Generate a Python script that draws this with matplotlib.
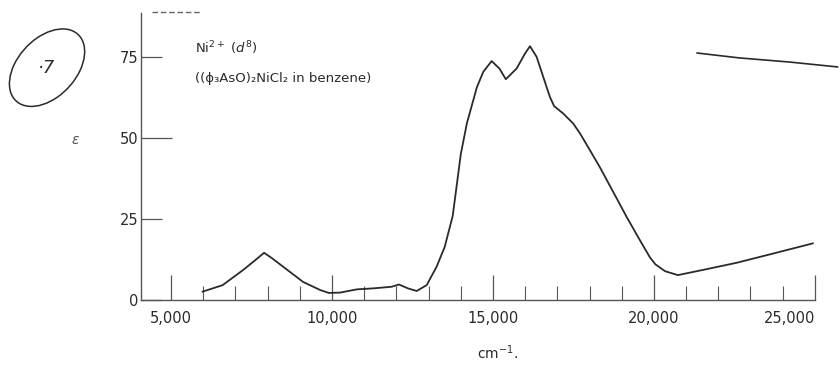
import matplotlib.pyplot as plt
from matplotlib.patches import Ellipse

# absorption spectrum of ((Ph3AsO)2NiCl2 in benzene)
wavenumber = [5980, 6600, 7240, 7600, 7890, 8150, 8480, 9100, 9630, 9900,
              10250, 10770, 11270, 11850, 12080, 12360, 12630, 12940, 13250,
              13500, 13750, 14000, 14190, 14500, 14700, 14960, 15200, 15400,
              15735, 15994, 16150, 16357, 16563, 16770, 16900, 17184, 17495,
              17702, 18012, 18323, 18736, 19152, 19565, 19876, 20050, 20350,
              20745, 21522, 22568, 23602, 24938]
epsilon = [2.6, 4.6, 9.3, 12.2, 14.6, 12.8, 10.3, 5.6, 3.1, 2.2,
           2.3, 3.3, 3.6, 4.1, 4.8, 3.6, 2.8, 4.6, 10.3,
           16.4, 26.0, 45.0, 54.6, 65.7, 70.5, 73.8, 71.5, 68.2,
           71.5, 76.1, 78.4, 75.1, 68.9, 62.7, 59.9, 57.6, 54.5,
           51.5, 46.3, 41.0, 33.4, 25.7, 18.5, 13.2, 11.0, 8.9,
           7.7, 9.3, 11.5, 14.1, 17.5]

x_major = [5000, 10000, 15000, 20000, 25000]
x_major_labels = ["5,000", "10,000", "15,000", "20,000", "25,000"]
x_minor = list(range(6000, 25000, 1000))
y_ticks = [0, 25, 50, 75]

ink = "#2a2a2a"
plt.rcParams["font.family"] = ["DejaVu Sans"]

fig = plt.figure(figsize=(8.4, 3.76), dpi=100)
ax = fig.add_axes([0.168, 0.202, 0.802, 0.763])

ax.plot(wavenumber, epsilon, color=ink, lw=1.3)

ax.set_xlim(4068, 25000)
ax.set_ylim(0, 88.6)

for side in ["top", "right"]:
    ax.spines[side].set_visible(False)
for side in ["left", "bottom"]:
    ax.spines[side].set_color("#555555")
    ax.spines[side].set_linewidth(1.0)

ax.set_xticks(x_major)
ax.set_xticklabels(x_major_labels)
ax.set_xticks(x_minor, minor=True)
ax.set_yticks(y_ticks)
ax.tick_params(axis="x", which="major", direction="in", length=18, width=0.9,
               colors="#555555", labelcolor=ink, labelsize=10.5, pad=8)
ax.tick_params(axis="x", which="minor", direction="in", length=10, width=0.8,
               colors="#555555")
ax.tick_params(axis="y", direction="in", length=15, width=0.9,
               colors="#555555", labelcolor=ink, labelsize=10.5, pad=2)
ax.yaxis.get_major_ticks()[2].tick1line.set_markersize(22)
ax.get_xticklabels()[-1].set_horizontalalignment("right")

fig.text(0.09, 0.628, "ε", fontsize=10, color="#555555", style="italic",
         ha="center", va="center")
fig.text(0.592, 0.062, "cm$^{-1}$.", fontsize=10, color=ink,
         ha="center", va="center")

fig.text(0.232, 0.872, "Ni$^{2+}$ ($d^8$)", fontsize=9.5, color=ink,
         ha="left", va="center")
fig.text(0.232, 0.792, "((ϕ₃AsO)₂NiCl₂ in benzene)", fontsize=9.5, color=ink,
         ha="left", va="center")

# scan leftovers: top frame dash, stray pen stroke, circled page number
fig.add_artist(plt.Line2D([0.181, 0.238], [0.968, 0.968], color="#666666",
                          lw=1.0, ls=(0, (4, 2))))
fig.add_artist(plt.Line2D([0.830, 0.88, 0.94, 0.997], [0.859, 0.846, 0.835, 0.822],
                          color=ink, lw=1.2))
fig.add_artist(Ellipse((0.056, 0.82), 0.08, 0.21, angle=-12,
                       transform=fig.transFigure, fill=False, ec=ink, lw=1.1))
fig.text(0.056, 0.82, "·7", fontsize=13, color=ink, ha="center", va="center",
         style="italic", fontweight="light")

fig.savefig("out.png", dpi=100, facecolor="white")
